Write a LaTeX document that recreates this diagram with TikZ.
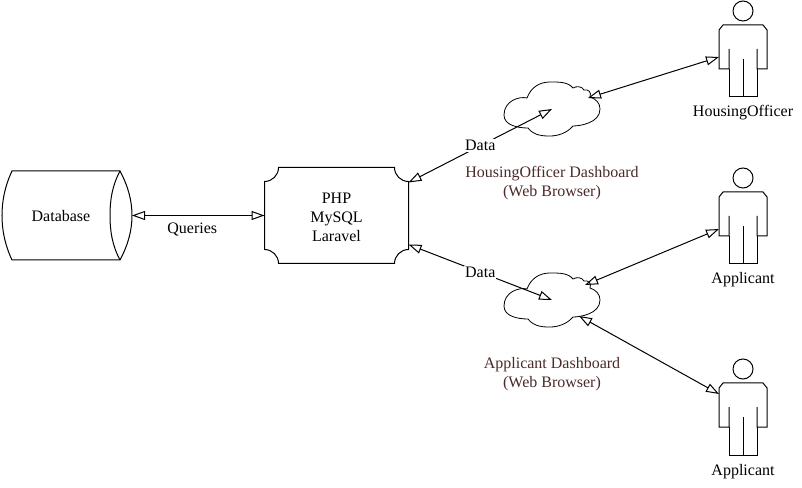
\documentclass[tikz,border=0pt]{standalone}
\usepackage{fontspec}
\setmainfont{Liberation Serif}
\usepackage{tikz}
\usetikzlibrary{arrows.meta,positioning}

\tikzset{
  actor/.pic={
    \draw[line width=1pt] (0,0) circle (10);
    \draw[line width=1pt] (-14,-38) -- (-14,-58) -- (-24,-58) -- (-24,-19) -- (-20,-14) -- (20,-14)
      -- (24,-19) -- (24,-58) -- (14,-58) -- (14,-38);
    \draw[line width=1pt] (-14,-58) -- (-14,-86) -- (14,-86) -- (14,-58);
    \draw[line width=1pt] (0,-48) -- (0,-86);
    \node[box,minimum width=48pt,minimum height=44pt] (-body) at (0,-36) {};
    \node[txt,anchor=base] (-name) at (0,-106) {\tikzpictext};
  },
  webcloud/.pic={
    \draw[line width=0.8pt] (-25,11) .. controls (-33,13) and (-48,8) .. (-48,-6)
      .. controls (-48,-16) and (-35,-19) .. (-24,-19)
      .. controls (-18,-27) and (-8,-27) .. (-2,-27)
      .. controls (6,-27) and (15,-24) .. (21,-17)
      .. controls (28,-17) and (48,-14) .. (48,0)
      .. controls (48,6) and (44,10) .. (38,12)
      .. controls (40,17) and (36,20) .. (32,19)
      .. controls (30,23) and (24,23) .. (21,21)
      .. controls (16,27) and (8,27) .. (-2,27)
      .. controls (-12,27) and (-21,22) .. cycle;
    \node[box] (-c) at (0,0) {};
  },
  box/.style={inner sep=0pt,outer sep=0pt},
  txt/.style={font=\fontsize{16}{19}\selectfont,align=center,inner sep=0pt},
  weblabel/.style={txt,text=webbrown},
  datalabel/.style={txt,fill=white,inner sep=1pt,pos=0.5},
}
\definecolor{webbrown}{HTML}{4A2A2A}

\begin{document}
\begin{tikzpicture}[x=1pt,y=1pt,on grid,line width=1pt,
    >={Triangle[open,length=13pt,width=9pt,line width=1pt]}]
    \useasboundingbox (0,0) rectangle (802,487);

    \node[box,minimum width=130pt,minimum height=89pt] (db) at (67,271.5) {};
    \node[box,minimum width=144pt,minimum height=96pt] (proc) [right = 269.5pt of db] {};
    \node[txt] (dbname) [below left = 1pt and 6pt of db] {Database};
    \node[txt] (procname) [below = 1.5pt of proc] {PHP\\MySQL\\Laravel};

    % database outline
    \draw ([xshift=10pt]db.north west) -- ([xshift=-12pt]db.north east)
      .. controls ([xshift=-4pt,yshift=-15pt]db.north east) and ([yshift=15pt]db.east) .. (db.east)
      .. controls ([yshift=-15pt]db.east) and ([xshift=-4pt,yshift=15pt]db.south east) .. ([xshift=-12pt]db.south east)
      -- ([xshift=10pt]db.south west)
      .. controls ([xshift=3pt,yshift=15pt]db.south west) and ([yshift=-15pt]db.west) .. (db.west)
      .. controls ([yshift=15pt]db.west) and ([xshift=3pt,yshift=-15pt]db.north west) .. cycle;
    \draw ([xshift=-12pt]db.north east)
      .. controls ([xshift=-20pt,yshift=-15pt]db.north east) and ([xshift=-22pt,yshift=15pt]db.east) .. ([xshift=-22pt]db.east)
      .. controls ([xshift=-22pt,yshift=-15pt]db.east) and ([xshift=-20pt,yshift=15pt]db.south east) .. ([xshift=-12pt]db.south east);

    % server outline
    \draw ([xshift=14pt]proc.north west) -- ([xshift=-14pt]proc.north east)
      arc[start angle=180,end angle=270,radius=14pt] -- ([yshift=14pt]proc.south east)
      arc[start angle=90,end angle=180,radius=14pt] -- ([xshift=14pt]proc.south west)
      arc[start angle=0,end angle=90,radius=14pt] -- ([yshift=-14pt]proc.north west)
      arc[start angle=270,end angle=360,radius=14pt] -- cycle;

    \pic (housingweb) at (552,378) {webcloud};
    \pic (applicantweb) at (552,187) {webcloud};
    \node[weblabel] (housinglabel) [below = 74.5pt of housingweb-c] {HousingOfficer Dashboard\\(Web Browser)};
    \node[weblabel] (applicantlabel) [below = 74.5pt of applicantweb-c] {Applicant Dashboard\\(Web Browser)};

    \pic[pic text=HousingOfficer] (housing) at (743,476) {actor};
    \pic[pic text=Applicant] (applicant) at (743,309) {actor};
    \pic[pic text=Applicant] (applicanttwo) at (743,118) {actor};

    \path[<->]
    (db.east) edge[line width=1.8pt] node[txt,yshift=-14pt,pos=0.455] {Queries} (proc.west)
    ([yshift=-15pt]proc.north east) edge node[datalabel] {Data} (housingweb-c.center)
    ([yshift=19pt]proc.south east) edge node[datalabel] {Data} (applicantweb-c.center)
    ([shift={(36,11)}]housingweb-c.center) edge ([yshift=-10pt]housing-body.west)
    ([shift={(33,15)}]applicantweb-c.center) edge ([yshift=-15pt]applicant-body.west)
    ([shift={(27,-16)}]applicantweb-c.center) edge ([yshift=11pt]applicanttwo-body.west)
    ;
  \end{tikzpicture}
\end{document}
